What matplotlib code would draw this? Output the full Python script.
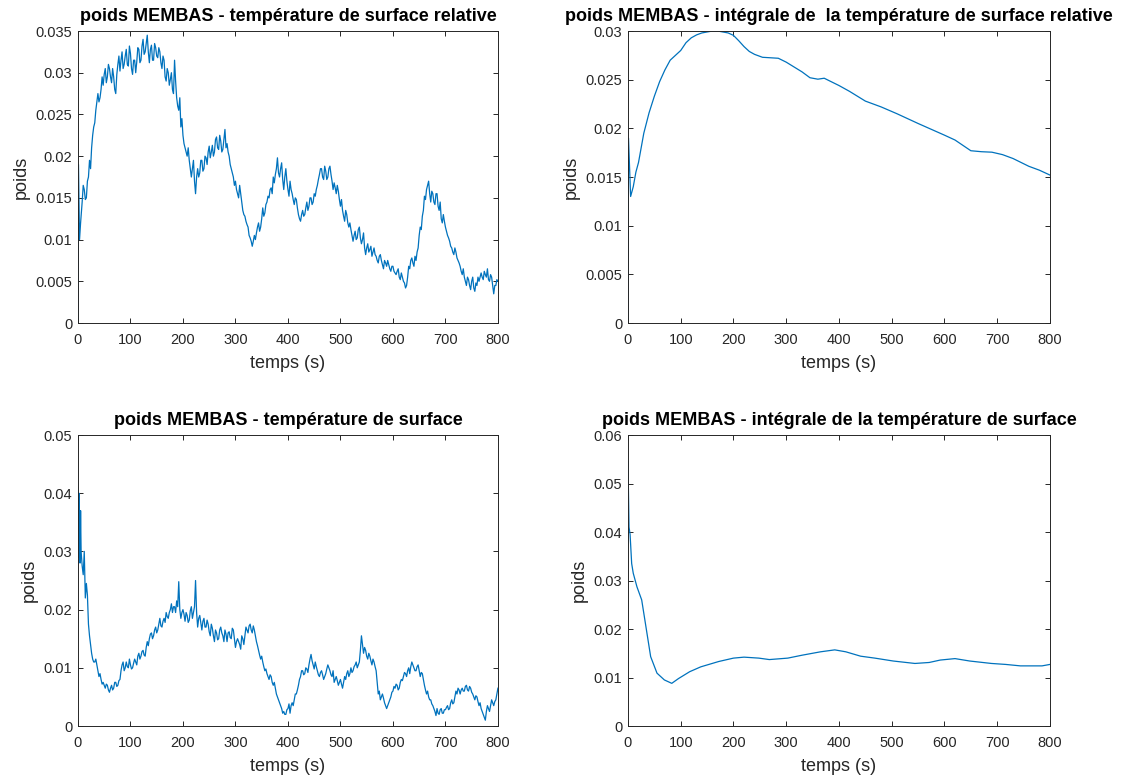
import matplotlib
matplotlib.use("Agg")
import matplotlib.pyplot as plt
import numpy as np

# --- poids MEMBAS - température de surface relative (noisy, x1e-3) ---
t_rel = np.concatenate([[0, 1, 3, 5], np.arange(8, 801, 2)])
poids_rel = [
    0, 19, 10, 12,
    14.5, 16.5, 16, 14.8, 15, 17, 17.5, 19.5, 18.5, 21, 22.5, 23.5, 24, 25.5, 26.5, 27.5, 26.5, 27, 28, 29.5,
    28.5, 29.8, 30.5, 28.8, 29.5, 31, 30.5, 29.5, 28.8, 30.5, 29.5, 28, 27.5, 29.8, 31, 32, 30.2, 31.5, 32.5, 30.5,
    31, 32, 32.8, 31, 30.8, 33.2, 32.3, 30.5, 29.8, 31.5, 31.5, 30, 31.3, 33, 32.8, 31.2, 31.5, 33.2, 34, 32.2,
    32.5, 33.5, 34.5, 32.5, 31.2, 32.8, 33.3, 31.5, 31.5, 33.5, 33, 32, 31.8, 33, 32.5, 31.2, 30.5, 32, 31.5, 29.5,
    29, 30.5, 30, 28.5, 29.2, 30, 28, 27.5, 31.5, 29, 27, 26, 25.5, 27, 23.5, 24.5, 22.5, 21.5, 21, 20.5,
    20, 21, 19.5, 18.5, 17.5, 18.5, 19.5, 17, 15.5, 17.5, 18.5, 17.5, 18, 19.5, 19.5, 18.2, 18.5, 20, 19.8, 19,
    20.5, 21.2, 19.8, 20.5, 21.3, 20, 20.5, 22, 22.3, 21, 20.8, 22.5, 21.8, 20.5, 20.8, 22, 23.2, 21, 21.5, 20.5,
    20, 19, 18.5, 18, 17.5, 16.5, 17, 16, 15.5, 15, 16.5, 15.5, 14.5, 13.5, 13, 12.8, 12.2, 11.8, 11.5, 10.5,
    10.2, 9.8, 9.2, 9.8, 10.5, 10, 10.8, 11.5, 12, 11, 11.5, 12.5, 13.8, 12.8, 13.2, 14.2, 14.5, 15.2, 15, 16,
    16.2, 15.5, 17.5, 16.8, 17.8, 18.5, 19.8, 18, 17.5, 18.5, 19.2, 17.2, 16, 17.5, 18.5, 17, 16, 15.2, 17, 16,
    15.5, 14.8, 14.2, 15, 14.8, 13.8, 13, 12.5, 12.2, 13, 13.5, 12.8, 13, 13.8, 14.5, 13.5, 14, 15, 15, 14.2,
    14.5, 15.5, 15.2, 16, 16.5, 17.2, 17.8, 18.5, 18.5, 17.5, 17.2, 18.8, 18.2, 17.2, 17.5, 18.5, 18.8, 17.8, 17, 16,
    16.8, 16.2, 15.5, 16.5, 15.8, 14.8, 14, 14.8, 13.5, 12.8, 12.2, 13.5, 13, 12, 11.5, 12, 11.2, 10.5, 9.8, 10.5,
    11, 10, 10.2, 11.2, 11.5, 10.2, 9.5, 10, 10.8, 9, 8.2, 9, 9.5, 8.5, 8.8, 9.2, 8, 8.5, 9, 8.2,
    8, 7.5, 7.2, 8, 8.2, 7.5, 7, 6.5, 7.5, 7.2, 6.8, 7.5, 7, 6.5, 6.2, 6.8, 6.8, 6.2, 6, 5.8,
    6.2, 6.5, 5.5, 5.2, 6, 5.5, 5, 4.8, 4.2, 4.5, 5.5, 6.8, 6.5, 7.5, 7.8, 7.2, 6.8, 8, 7.5, 8.5,
    9, 10.5, 11.5, 11.2, 12.8, 13.5, 15.2, 14.8, 16, 16.5, 17, 15.5, 14.5, 15.8, 15.5, 14.5, 14.2, 15.5, 15.5, 14,
    13.5, 14.5, 12.5, 12, 13, 12.2, 11.5, 11, 10.5, 10.2, 9.8, 9.2, 9, 8.5, 8.2, 9, 8.5, 7.8, 7.5, 7.2,
    6.8, 6.2, 5.8, 6.5, 5.5, 5, 4.5, 5.5, 5.2, 4.5, 4, 5, 5.5, 4.2, 3.8, 4.8, 4.5, 5.5, 5, 5.5,
    6, 5.5, 5.2, 6.2, 5.8, 5.5, 6.5, 5.2, 5, 5.8, 5.5, 4.5, 3.5, 4.5, 4.5, 5.2, 5,
]

# --- poids MEMBAS - température de surface (noisy, x1e-3) ---
t_surf = np.concatenate([[0, 1, 2, 3, 4, 5, 6, 8, 10, 12, 14, 16, 18, 20, 22],
                         np.arange(24, 801, 2)])
poids_surf = [
    41, 29, 40, 35, 28, 37, 30, 27.5, 26, 30, 22, 24.5, 22.5, 17.5, 15.5,
    14, 12.5, 11.5, 11, 11, 11.5, 10.5, 9.5, 8.5, 9, 8, 7.2, 7.5, 7, 6.5, 7.2, 7, 6.2, 5.8, 6.5,
    7, 6.2, 6.5, 7.5, 7.5, 6.8, 7, 7.8, 8, 9.5, 10.5, 11, 9.5, 10, 11, 10.2, 10, 11.5, 10.5, 9.8,
    10, 10.8, 11.5, 11, 10.5, 12, 12.5, 11.5, 12, 12.8, 13, 12.2, 12, 13.5, 14.5, 13.8, 15, 15.8, 16, 15,
    15.5, 16.5, 17, 16, 16.5, 17.5, 18.5, 17.2, 17, 18, 18.5, 17.8, 19.5, 18.8, 18.5, 19.5, 20, 21, 19.5, 20.5,
    20.5, 19.5, 21.5, 20.5, 24.8, 20, 18.5, 19.5, 20, 19.2, 18, 19.5, 19, 17.8, 18.2, 19.8, 20.5, 18.5, 19.5, 20.5,
    25, 19.5, 17, 18.5, 19, 17.8, 16.5, 18, 18.5, 17, 17, 18.2, 17.5, 16.2, 15.5, 17.5, 16.8, 15.5, 14.5, 16.5,
    16, 14.8, 15, 16.5, 17, 16, 15.5, 14.5, 16.5, 15.8, 14.5, 16, 16.2, 15.2, 15, 16.8, 16.5, 15, 13.5, 14.5,
    15, 14.5, 14, 13.2, 15.5, 15, 14, 15.5, 17, 16.5, 16, 17.2, 17.5, 16.5, 16, 17.2, 16.5, 15.5, 14.5, 13.8,
    13, 12.2, 11.5, 12, 11, 10.2, 9.5, 9.8, 9, 8.5, 8, 8.8, 8.5, 7.5, 7, 7.5, 6.5, 5.5, 5, 4.5,
    4, 3.5, 3, 2.2, 2.5, 2, 2, 2.8, 3, 3.8, 2.2, 3.5, 4, 3.5, 4.5, 5.5, 5.5, 6.2, 7, 8,
    8.5, 9.5, 9.5, 8.8, 9, 10, 9.8, 9.2, 10.5, 11.5, 12.3, 11.2, 10.5, 9.8, 11, 10.2, 9.5, 8.8, 8.5, 9.2,
    9.5, 8.8, 8, 8.5, 9, 9.8, 10.5, 10, 9.5, 8.8, 8.5, 9.5, 7.5, 8, 8.5, 7.8, 7, 7.5, 8, 7.2,
    6.5, 7.5, 8.5, 8, 9, 9.5, 8.5, 9, 10, 9.2, 9.5, 10.2, 10.5, 11, 10, 10.5, 11, 13, 15.5, 14,
    12.5, 13.5, 13, 12, 11.5, 12.5, 12, 11.2, 10.5, 11.5, 11, 10.2, 9.5, 7.5, 5.5, 6, 4.5, 5, 5.5, 4.8,
    4, 3.5, 3, 3.5, 4, 4.5, 5, 5.8, 6, 6.8, 6.5, 7.2, 7, 6.2, 6.5, 7.5, 8, 7.8, 8.5, 9.2,
    9, 8.5, 9.5, 10, 9, 10.2, 11, 10.5, 10, 9.5, 9.5, 10.2, 10.5, 9.5, 8.5, 9.2, 9, 8, 7, 6.2,
    5.5, 6, 5, 4.5, 4.5, 3.8, 3.5, 3, 2.5, 1.8, 3, 2.2, 2, 2.8, 3, 2.2, 2.2, 2.8, 2.8, 3.2,
    3.5, 2.8, 3, 4, 4.5, 3.8, 4, 5, 6, 5.5, 6.5, 6.2, 5.5, 6.2, 6.5, 6, 6, 6.8, 7, 6.2,
    6, 6.8, 6.5, 5.8, 5.5, 5, 4.5, 5.2, 5, 4.2, 3.5, 4, 3, 2.5, 2, 1.5, 1, 2.5, 3.5, 3,
    2.5, 3.5, 4.5, 4, 3.5, 4.2, 4.5, 5.5, 6.5,
]

# --- poids MEMBAS - intégrale de la température de surface relative ---
t_int_rel = [0, 1, 5, 10, 15, 20, 30, 40, 50, 60, 70, 80, 90, 100, 110, 120,
             130, 140, 150, 160, 170, 180, 190, 200, 210, 220, 230, 240, 255,
             270, 285, 300, 315, 330, 345, 360, 372, 385, 400, 420, 450, 480,
             510, 550, 600, 620, 650, 670, 690, 710, 730, 760, 780, 800]
poids_int_rel = [0, 19.0, 13.0, 14.0, 15.5, 16.5, 19.5, 21.6, 23.3, 24.8, 26.0,
                 27.0, 27.5, 28.0, 28.8, 29.3, 29.6, 29.8, 29.9, 30.0, 30.0,
                 29.9, 29.8, 29.55, 29.0, 28.4, 27.9, 27.6, 27.3, 27.25, 27.2,
                 26.8, 26.3, 25.8, 25.2, 25.05, 25.15, 24.8, 24.4, 23.8, 22.8,
                 22.2, 21.5, 20.5, 19.3, 18.8, 17.7, 17.6, 17.55, 17.3, 16.9,
                 16.1, 15.7, 15.2]

# --- poids MEMBAS - intégrale de la température de surface ---
t_int_surf = [0, 2, 4, 7, 10, 17, 26, 34, 43, 55, 69, 83, 96, 117, 138, 172,
              200, 220, 248, 268, 303, 330, 365, 392, 413, 441, 468, 503, 544,
              571, 592, 620, 648, 689, 716, 744, 785, 800]
poids_int_surf = [54.5, 41, 39.5, 33.5, 31.5, 28.7, 26, 20.5, 14.3, 10.9, 9.5,
                  8.8, 9.8, 11.2, 12.2, 13.3, 14.0, 14.2, 14.0, 13.7, 14.0,
                  14.6, 15.3, 15.7, 15.3, 14.4, 14.0, 13.4, 12.9, 13.1, 13.6,
                  13.9, 13.4, 12.9, 12.7, 12.4, 12.4, 12.7]

panels = [
    ("poids MEMBAS - température de surface relative", t_rel, poids_rel, 0.035, 0.005),
    ("poids MEMBAS - intégrale de  la température de surface relative",
     t_int_rel, poids_int_rel, 0.03, 0.005),
    ("poids MEMBAS - température de surface", t_surf, poids_surf, 0.05, 0.01),
    ("poids MEMBAS - intégrale de la température de surface",
     t_int_surf, poids_int_surf, 0.06, 0.01),
]

plt.rcParams["font.family"] = ["Liberation Sans", "DejaVu Sans"]
MATLAB_BLUE = "#0072BD"
AX_GREY = "#262626"

fig = plt.figure(figsize=(11.25, 7.81), dpi=100)
rects = [
    [0.0693, 0.5864, 0.3733, 0.3739],
    [0.5582, 0.5864, 0.3751, 0.3739],
    [0.0693, 0.0704, 0.3733, 0.3726],
    [0.5582, 0.0704, 0.3751, 0.3726],
]

for rect, (title, t, vals, ymax, ystep) in zip(rects, panels):
    ax = fig.add_axes(rect)
    ax.plot(t, np.asarray(vals) * 1e-3, color=MATLAB_BLUE, lw=0.9)
    ax.set_xlim(0, 800)
    ax.set_ylim(0, ymax)
    ax.set_xticks(np.arange(0, 801, 100))
    yt = np.arange(0, ymax + ystep / 2, ystep)
    ax.set_yticks(yt)
    ax.set_yticklabels([f"{v:g}" for v in yt])
    ax.tick_params(direction="in", length=3.5, width=0.7, colors=AX_GREY,
                   labelsize=10.5, top=True, right=True, pad=4)
    ax.tick_params(axis="x", pad=7)
    for s in ax.spines.values():
        s.set_color(AX_GREY)
        s.set_linewidth(0.7)
    ax.set_title(title, fontsize=13, fontweight="bold", color="black", pad=7)
    ax.set_xlabel("temps (s)", fontsize=13, color=AX_GREY, labelpad=6)
    ax.set_ylabel("poids", fontsize=13, color=AX_GREY, labelpad=4)

fig.savefig("out.png", dpi=100)
